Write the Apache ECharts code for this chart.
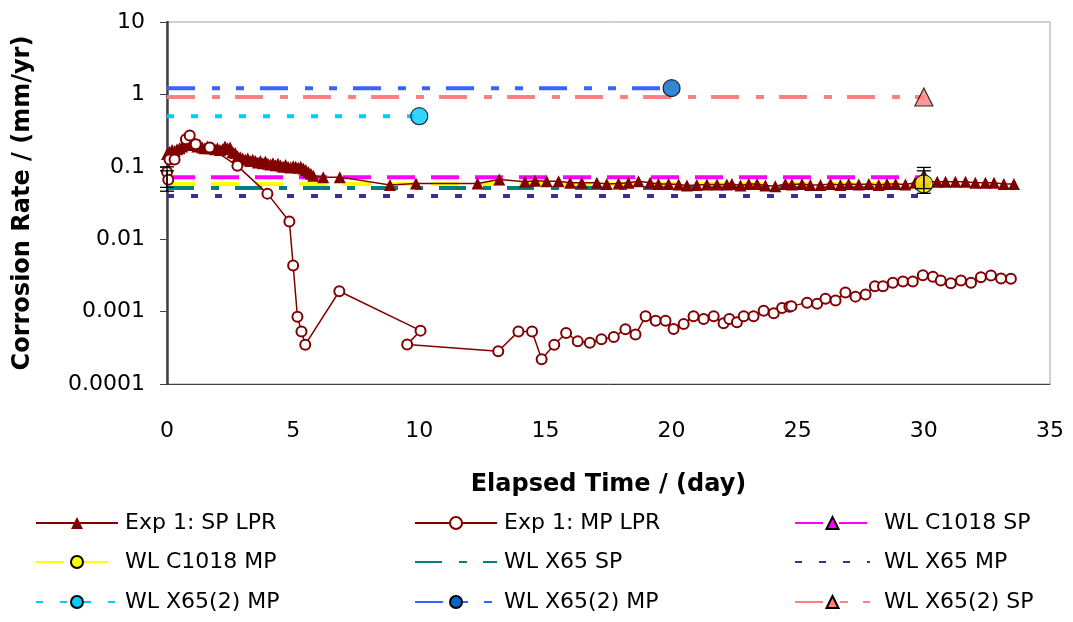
<!DOCTYPE html>
<html><head><meta charset="utf-8">
<script src="https://cdn.jsdelivr.net/npm/echarts@6/dist/echarts.min.js"></script>
<style>html,body{margin:0;padding:0;background:#fff}#c{width:1073px;height:622px}</style>
</head><body><div id="c"></div>
<script>
// ---- data ----
const spDays = [0.0,0.1,0.2,0.3,0.4,0.5,0.6,0.7,0.8,0.9,1.0,1.1,1.2,1.3,1.4,1.5,1.6,1.7,1.8,1.9,2.0,2.1,2.2,2.3,2.4,2.5,2.6,2.7,2.8,2.9,3.0,3.1,3.2,3.3,3.4,3.5,3.6,3.7,3.8,3.9,4.0,4.1,4.2,4.3,4.4,4.5,4.6,4.7,4.8,4.9,5.0,5.1,5.2,5.3,5.4,5.5,5.6,5.7,5.8,
  6.19,6.85,8.84,9.87,12.31,13.17,
  14.19,14.59,15.05,15.52,15.98,16.44,17.04,17.43,17.9,18.29,18.69,19.15,19.48,19.88,20.28,20.61,21.0,21.4,21.8,22.19,22.39,22.73,23.06,23.39,23.72,24.11,
  24.51,24.77,25.17,25.5,25.9,26.3,26.69,27.02,27.42,27.82,28.21,28.54,28.88,29.27,29.65,30.04,30.53,30.86,31.25,31.65,32.04,32.44,32.78,33.17,33.57];
const spRate = [0.15,0.16,0.17,0.165,0.175,0.18,0.19,0.2,0.21,0.22,0.215,0.2,0.19,0.2,0.185,0.18,0.19,0.18,0.185,0.175,0.18,0.17,0.175,0.19,0.18,0.185,0.16,0.155,0.14,0.135,0.13,0.125,0.13,0.12,0.125,0.12,0.115,0.12,0.112,0.118,0.11,0.108,0.112,0.105,0.11,0.104,0.1,0.106,0.1,0.098,0.102,0.1,0.097,0.1,0.095,0.09,0.085,0.08,0.075,
  0.072,0.072,0.056,0.059,0.059,0.067,
  0.062,0.064,0.063,0.063,0.060,0.060,0.060,0.058,0.059,0.060,0.063,0.060,0.058,0.058,0.057,0.055,0.056,0.057,0.057,0.057,0.058,0.055,0.058,0.058,0.055,0.054,
  0.058,0.057,0.058,0.056,0.056,0.058,0.056,0.058,0.057,0.058,0.056,0.058,0.058,0.057,0.060,0.062,0.062,0.062,0.062,0.062,0.060,0.060,0.060,0.058,0.058];

const mpDays = [0.0,0.05,0.1,0.3,0.75,0.9,1.14,1.69,2.79,3.98,4.85,5.0,5.17,5.33,5.48,6.83,10.05,9.52,13.13,13.93,14.47,14.85,15.35,15.82,16.28,16.76,17.22,17.71,18.17,18.57,18.97,19.37,19.76,20.08,20.48,20.87,21.27,21.67,22.06,22.29,22.59,22.86,23.25,23.65,24.05,24.38,24.67,24.75,25.37,25.77,26.1,26.5,26.89,27.29,27.69,28.06,28.38,28.77,29.17,29.56,29.96,30.36,30.67,31.07,31.47,31.87,32.26,32.66,33.06,33.45];
const mpRate = [0.085,0.066,0.126,0.126,0.24,0.27,0.205,0.185,0.103,0.0426,0.0176,0.00434,0.00085,0.000533,0.000349,0.00191,0.000546,0.000352,0.000283,0.000533,0.000533,0.000219,0.000349,0.000507,0.000388,0.000372,0.000414,0.000447,0.000569,0.000481,0.000861,0.00075,0.00075,0.000577,0.000676,0.000861,0.000793,0.000861,0.000689,0.000793,0.000711,0.000861,0.000861,0.00103,0.000948,0.001125,0.00117,0.00119,0.00133,0.00128,0.0015,0.00142,0.00183,0.00161,0.00172,0.00224,0.00224,0.0025,0.0026,0.0026,0.00318,0.00302,0.00269,0.00247,0.00269,0.0025,0.00299,0.00315,0.00286,0.00285];

const wlNames = ['WL C1018 SP','WL C1018 MP','WL X65 SP','WL X65 MP','WL X65(2) MP','WL X65(2) MP ','WL X65(2) SP'];
const wlRate  = [0.072,0.058,0.051,0.0395,0.5,1.22,0.92];
const wlDay   = [30,30,30,30,10,20,30];

const errDay = [0,0,30,30];
const errLow = [0.046,0.052,0.043,0.05];
const errHigh = [0.1,0.088,0.098,0.088];

const xTicks = [0,5,10,15,20,25,30,35];
const yTickLabels = ['0.0001','0.001','0.01','0.1','1','10'];

// ---- styles ----
const DR = '#800000';
const wlStyles = [
  {color:'#FF00FF', dash:[28,16], sym:'triangle', symSize:14, fill:'#FF00FF'},
  {color:'#FFFF00', dash:[28,16], sym:'circle', symSize:18, fill:'#FFFF00'},
  {color:'#008080', dash:[27,17,8,16], sym:null},
  {color:'#333399', dash:[7,17], sym:null},
  {color:'#00CCFF', dash:[7,17], sym:'circle', symSize:17, fill:'#00CCFF'},
  {color:'#3366FF', dash:[28,17,8,16,8,16], sym:'circle', symSize:17, fill:'#0066CC'},
  {color:'#FF8080', dash:[28,17,8,15], sym:'triangle', symSize:18, fill:'#FF8080'}
];

const series = [];
wlNames.forEach((n,i)=>{
  const s = wlStyles[i];
  series.push({
    name:n, type:'line', z:1,
    symbol: s.sym || 'circle',
    symbolSize: s.symSize || 10,
    itemStyle: s.sym ? {color:s.fill, borderColor:'#000', borderWidth:1.2} : {color:'rgba(0,0,0,0)', borderWidth:0},
    lineStyle:{color:s.color, width:4, type:s.dash},
    data:[{value:[0,wlRate[i]], symbol:'none'},{value:[wlDay[i],wlRate[i]], symbol:'none'}],
    animation:false
  });
});
series.push({
  name:'Exp 1: SP LPR', type:'line', z:3,
  symbol:'triangle', symbolSize:12,
  itemStyle:{color:DR},
  lineStyle:{color:DR, width:1.5},
  data: spDays.map((d,i)=>[d,spRate[i]]),
  animation:false
});
series.push({
  name:'Exp 1: MP LPR', type:'line', z:4,
  symbol:'circle', symbolSize:10,
  itemStyle:{color:'#fff', borderColor:DR, borderWidth:2},
  lineStyle:{color:DR, width:1.5},
  data: mpDays.map((d,i)=>[d,mpRate[i]]),
  animation:false
});
// end markers of WL lines, drawn on top
wlNames.forEach((n,i)=>{
  const s = wlStyles[i];
  if(!s.sym) return;
  series.push({
    type:'scatter', z:5+i, symbol:s.sym, symbolSize:s.symSize,
    itemStyle:{color:s.fill, borderColor:'#000', borderWidth:1.2},
    data:[[wlDay[i],wlRate[i]]], animation:false, silent:true
  });
});
// error bars
series.push({
  type:'custom', z:20, silent:true, animation:false,
  data: errDay.map((d,i)=>[d,errLow[i],errHigh[i]]),
  renderItem:(params,api)=>{
    const lo = api.coord([api.value(0),api.value(1)]);
    const hi = api.coord([api.value(0),api.value(2)]);
    const w = 7;
    const st = {stroke:'#000', lineWidth:1.3};
    return {type:'group', children:[
      {type:'line', shape:{x1:lo[0],y1:lo[1],x2:hi[0],y2:hi[1]}, style:st},
      {type:'line', shape:{x1:lo[0]-w,y1:lo[1],x2:lo[0]+w,y2:lo[1]}, style:st},
      {type:'line', shape:{x1:hi[0]-w,y1:hi[1],x2:hi[0]+w,y2:hi[1]}, style:st}
    ]};
  }
});

const FONT = 'DejaVu Sans, Liberation Sans, Arial, sans-serif';
// ---- legend (3 x 3) ----
const legendOrder = ['Exp 1: SP LPR','Exp 1: MP LPR','WL C1018 SP','WL C1018 MP','WL X65 SP','WL X65 MP','WL X65(2) MP','WL X65(2) MP ','WL X65(2) SP'];
const colLeft = [35,414,794];
const colWidth = [82,82,75];
const colPad = [2,2,9];
const rowTop = [512,551,591];
const legends = legendOrder.map((n,k)=>({
  data:[n], left:colLeft[k%3], top:rowTop[Math.floor(k/3)], padding:0,
  itemWidth:colWidth[k%3], itemHeight:15, itemGap:0,
  selectedMode:false,
  textStyle:{fontFamily:FONT, fontSize:22, color:'#000', padding:[0,0,0,colPad[k%3]]}
}));

const chart = echarts.init(document.getElementById('c'), null, {renderer:'canvas'});
chart.setOption({
  backgroundColor:'#fff',
  animation:false,
  grid:{left:167, right:23, top:22, bottom:238, show:true, borderColor:'#a0a0a0', borderWidth:1},
  legend: legends,
  xAxis:{
    type:'value', min:xTicks[0], max:xTicks[xTicks.length-1], interval:5,
    name:'Elapsed Time / (day)', nameLocation:'middle', nameGap:89,
    nameTextStyle:{fontFamily:FONT, fontWeight:'bold', fontSize:24, color:'#000'},
    axisLine:{show:true, lineStyle:{color:'#404040', width:1}},
    axisTick:{show:false},
    splitLine:{show:false},
    axisLabel:{margin:36, fontFamily:FONT, fontSize:22, color:'#000'}
  },
  yAxis:{
    type:'log', logBase:10, min:0.0001, max:10,
    name:'Corrosion Rate / (mm/yr)', nameLocation:'middle', nameGap:132,
    nameTextStyle:{fontFamily:FONT, fontWeight:'bold', fontSize:24, color:'#000'},
    axisLine:{show:true, lineStyle:{color:'#404040', width:2.5}},
    axisTick:{show:true, inside:false, length:7, lineStyle:{color:'#404040', width:1}},
    splitLine:{show:false},
    minorTick:{show:false},
    axisLabel:{margin:22, fontFamily:FONT, fontSize:22, color:'#000',
      formatter:v=>yTickLabels[Math.round(Math.log10(v))+4]}
  },
  series: series
});
</script></body></html>
